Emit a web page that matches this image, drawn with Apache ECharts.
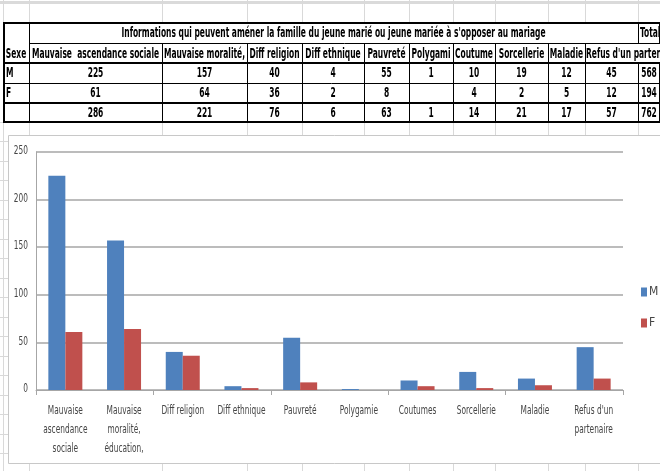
<!DOCTYPE html>
<html><head><meta charset="utf-8">
<script src="https://cdn.jsdelivr.net/npm/echarts/dist/echarts.min.js"></script>
<style>html,body{margin:0;padding:0;background:#fff;overflow:hidden}#c{width:660px;height:471px}</style>
</head><body><div id="c"></div>
<script>
// ---- data ----
const categories = ['Mauvaise\nascendance\nsociale', 'Mauvaise\nmoralité,\néducation,', 'Diff religion', 'Diff ethnique', 'Pauvreté', 'Polygamie', 'Coutumes', 'Sorcellerie', 'Maladie', "Refus d'un\npartenaire"];
const seriesNames = ['M', 'F'];
const valuesM = [225, 157, 40, 4, 55, 1, 10, 19, 12, 45];
const valuesF = [61, 64, 36, 2, 8, null, 4, 2, 5, 12];
const valuesTotal = [286, 221, 76, 6, 63, 1, 14, 21, 17, 57];
const totalsBySex = [568, 194, 762];
const tableTitle = "Informations qui peuvent améner la famille du jeune marié ou jeune mariée à s'opposer au mariage";
const tableHeaders = ['Mauvaise  ascendance sociale', 'Mauvaise moralité,', 'Diff religion', 'Diff ethnique', 'Pauvreté', 'Polygami', 'Coutume', 'Sorcellerie', 'Maladie', "Refus d'un partenaire"];
const sexeLabel = 'Sexe';
const totalLabel = 'Total';
const yTicks = [0, 50, 100, 150, 200, 250];

// ---- layout ----
const FF = "'Liberation Sans Narrow','Arial Narrow','DejaVu Sans Condensed',sans-serif";
const colX = [3, 29, 162, 247, 302, 364, 409, 453, 495, 548, 585, 638, 660];
const ctx = document.createElement('canvas').getContext('2d');
ctx.font = 'bold 14px ' + FF;
const sx = 424 / ctx.measureText(tableTitle).width;
ctx.font = '12px ' + FF;
const sxL = 35 / ctx.measureText('Mauvaise').width;
const LAB = '#454545', AX = '#a6a6a6';

function txt(s, x, y, align) {
  return { type: 'text', x: x, y: y, scaleX: sx, z: 5, silent: true,
    style: { text: s, x: 0, y: 0, align: align || 'center', verticalAlign: 'middle',
      fontFamily: FF, fontSize: 14, fontWeight: 'bold', fill: '#000' } };
}
function lab(s, x, y, align) {
  return { type: 'text', x: x, y: y, scaleX: sxL, z: 5, silent: true,
    style: { text: s, x: 0, y: 0, align: align || 'center', verticalAlign: 'middle',
      fontFamily: FF, fontSize: 12, fill: LAB } };
}
function ln(x1, y1, x2, y2, w, c, z) {
  return { type: 'line', z: z, silent: true, shape: { x1: x1, y1: y1, x2: x2, y2: y2 }, style: { stroke: c, lineWidth: w } };
}
const g = [];
// spreadsheet gridlines
g.push({ type: 'rect', z: -20, silent: true, shape: { x: 0, y: 1, width: 660, height: 3 }, style: { fill: '#dadada' } });
colX.slice(0, 12).forEach(x => g.push(ln(x + 0.5, 0, x + 0.5, 471, 1, '#d9d9d9', -20)));
for (let i = 0; i < 19; i++) { const y = Math.round(122 + i * 19.47) + 0.5; g.push(ln(0, y, 660, y, 1, '#d9d9d9', -20)); }
// table
g.push({ type: 'rect', z: -6, silent: true, shape: { x: 3, y: 23, width: 657, height: 99 }, style: { fill: '#fff' } });
const B = '#000';
g.push(ln(3, 23, 660, 23, 2, B, 4));
g.push(ln(29, 43.5, 660, 43.5, 1, B, 4));
g.push(ln(3, 63, 660, 63, 2, B, 4));
g.push(ln(3, 83.5, 660, 83.5, 1, B, 4));
g.push(ln(3, 103, 660, 103, 2, B, 4));
g.push(ln(3, 122, 660, 122, 2, B, 4));
g.push(ln(4, 23, 4, 122, 2, B, 4));
g.push(ln(29.5, 23, 29.5, 122, 1, B, 4));
g.push(ln(638.5, 23, 638.5, 43, 1, B, 4));
g.push(ln(659.5, 23, 659.5, 43, 1, B, 4));
for (let c = 2; c <= 10; c++) g.push(ln(colX[c] + 0.5, 43, colX[c] + 0.5, 122, 1, B, 4));
g.push(ln(638.5, 63, 638.5, 122, 1, B, 4));
g.push(ln(659.5, 63, 659.5, 122, 1, B, 4));
// table text
g.push(txt(tableTitle, (colX[1] + colX[11]) / 2, 33.5));
g.push(txt(totalLabel, 640, 33.5, 'left'));
g.push(txt(sexeLabel, 16, 54));
tableHeaders.forEach((h, i) => {
  const cx = (colX[i + 1] + colX[i + 2]) / 2;
  if (i === tableHeaders.length - 1) g.push(txt(h, colX[i + 1] + 1, 54, 'left'));
  else g.push(txt(h, cx, 54));
});
g.push(txt(seriesNames[0], 6, 73.5, 'left'));
g.push(txt(seriesNames[1], 6, 93.5, 'left'));
const rows = [valuesM, valuesF, valuesTotal];
const rowC = [73.5, 93.5, 113];
rows.forEach((arr, r) => {
  arr.forEach((v, i) => {
    if (v === null || v === undefined) return;
    g.push(txt(String(v), (colX[i + 1] + colX[i + 2]) / 2, rowC[r]));
  });
  g.push(txt(String(totalsBySex[r]), 649, rowC[r]));
});
// chart box
g.push({ type: 'rect', z: -5, silent: true, shape: { x: 8.5, y: 135.5, width: 660, height: 328 }, style: { fill: '#fff', stroke: '#c8c8c8', lineWidth: 1 } });

const chart = echarts.init(document.getElementById('c'));
chart.setOption({
  animation: false,
  graphic: { elements: g },
  grid: { left: 36, top: 152, width: 587, height: 238 },
  legend: {
    orient: 'vertical', left: 636, top: 281, itemWidth: 6, itemHeight: 9, itemGap: 19,
    icon: 'rect', data: seriesNames,
    textStyle: { color: LAB, fontSize: 12, fontFamily: FF, padding: [0, 0, 0, -3] }
  },
  xAxis: {
    type: 'category', data: categories,
    axisLine: { lineStyle: { color: AX, width: 1 } },
    axisTick: { show: true, length: 5, lineStyle: { color: AX } },
    axisLabel: { show: false }
  },
  yAxis: {
    type: 'value', min: yTicks[0], max: yTicks[yTicks.length - 1], interval: yTicks[1] - yTicks[0],
    axisLine: { show: true, lineStyle: { color: AX } },
    axisTick: { show: false },
    splitLine: { lineStyle: { color: AX, width: 1.5 } },
    axisLabel: { show: false }
  },
  series: [
    { name: seriesNames[0], type: 'bar', data: valuesM, barWidth: 17, barGap: '0%', itemStyle: { color: '#4F81BD' } },
    { name: seriesNames[1], type: 'bar', data: valuesF, barWidth: 17, barGap: '0%', itemStyle: { color: '#C0504D' } }
  ]
});
// axis labels placed through the chart's own scales
const labs = [];
categories.forEach((c, i) => {
  const px = chart.convertToPixel({ xAxisIndex: 0 }, i);
  const base = chart.convertToPixel({ yAxisIndex: 0 }, 0);
  c.split('\n').forEach((line, k) => labs.push(lab(line, px, base + 21 + 19 * k)));
});
yTicks.forEach(v => {
  const py = chart.convertToPixel({ yAxisIndex: 0 }, v);
  labs.push(lab(String(v), 28, py - 1, 'right'));
});
chart.setOption({ graphic: { elements: g.concat(labs) } });
</script></body></html>
